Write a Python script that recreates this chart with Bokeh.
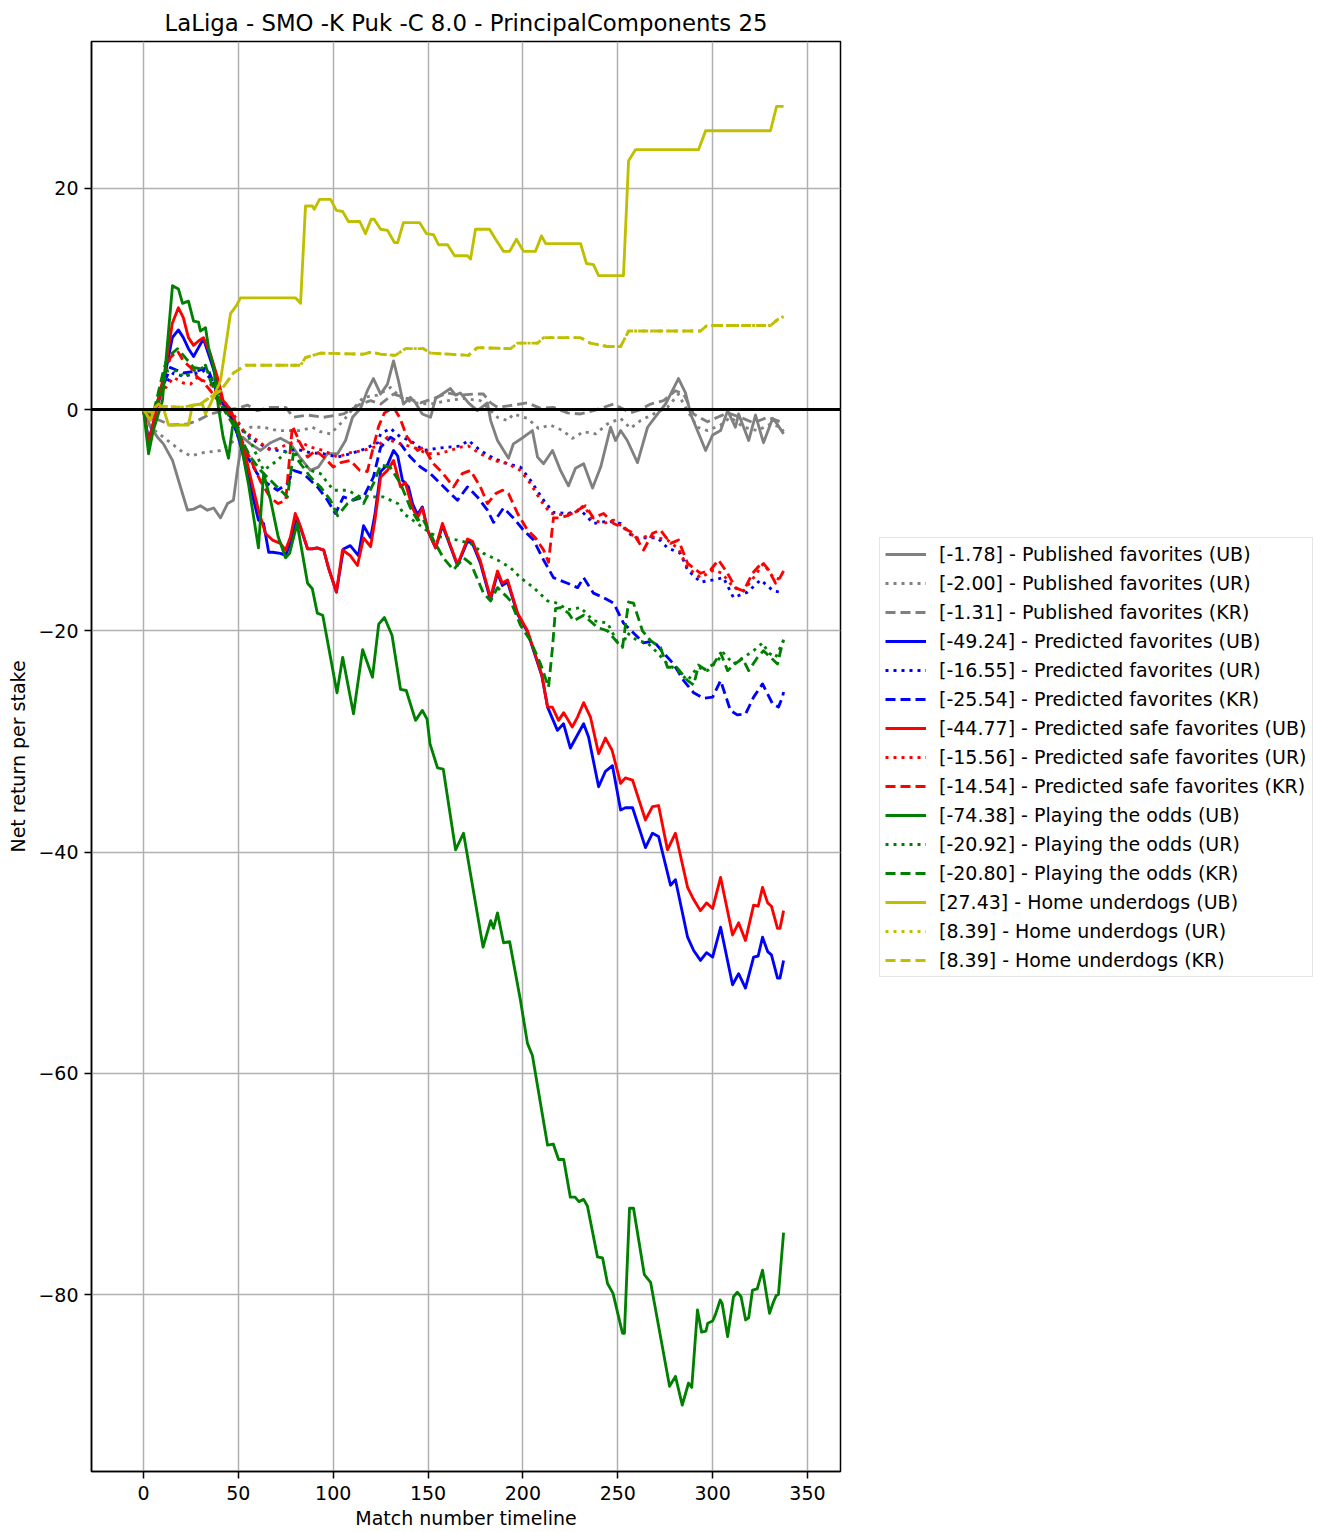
from bokeh.plotting import figure
from bokeh.models import Range1d, FixedTicker, Span, Legend, LegendItem, CustomJSTickFormatter
from bokeh.embed import file_html
from bokeh.resources import INLINE

# ---------------- data (match number, net return) ----------------
pub_ub = [(0, 0), (3.7, -1.6), (7.4, -2.5), (10.5, -3.1), (15.3, -4.6), (19.5, -7), (23.2, -9.1), (26.4, -9),
          (30, -8.7), (33.7, -9.1), (37, -8.9), (40.6, -9.8), (44.3, -8.5), (47.4, -8.2), (49.5, -5.5), (52.2, -2.5),
          (56.4, -3.1), (61.7, -3.7), (67, -3), (72.2, -2.6), (77.5, -3.1), (82.8, -4.4), (88, -5.5), (92.2, -5.2),
          (97, -4), (102.3, -4), (106.5, -2.8), (110.2, -0.7), (114.4, 0.1), (118, 1.7), (121.2, 2.8), (125, 1.4),
          (128.6, 2.3), (131.8, 4.4), (134.4, 2.6), (137, 0.5), (140.7, 1.1), (143.4, 0.6), (147, -0.4), (151.3, -0.7),
          (154, 1), (161.8, 1.9), (164.5, 1.3), (167, 1.5), (171.3, 0.6), (176, -0.1), (181.3, 0.6), (183, -1),
          (186.6, -2.8), (192.4, -4.4), (195, -3.1), (200.3, -2.5), (205, -1.9), (207.7, -4.3), (210.9, -4.9),
          (215.6, -3.7), (219.8, -5.5), (224, -6.9), (227.7, -5.3), (232, -4.9), (236.7, -7.1), (241, -5.2),
          (246.2, -1.6), (248.8, -2.8), (251.5, -1.9), (255, -2.8), (260.4, -4.8), (265.7, -1.6), (271, -0.4),
          (275.2, 0.5), (282, 2.8), (285.7, 1.5), (288.4, -0.4), (296.3, -3.7), (300, -2.3), (304.2, -1.9),
          (307.9, -0.1), (312, -1.6), (313.7, -0.4), (319, -2.8), (322.6, -0.5), (326.8, -3), (331.6, -0.8),
          (334, -1.3), (337.4, -2.2)]
pub_ur = [(0, 0), (3.7, -1.6), (10.5, -2.5), (19.5, -3.7), (24.8, -4.2), (31.6, -3.9), (40.6, -3.7), (45.9, -3.1),
          (51, -2.2), (56.4, -1.6), (63.3, -1.6), (70.6, -1.9), (77.5, -1.9), (83, -1.9), (89, -1.6), (93.3, -2),
          (98.6, -2.2), (105.4, -1), (110, 0), (116, 1.1), (123.4, 1.3), (130.2, 2), (135.5, 1.1), (142.3, 0.6),
          (151.3, 0.5), (160.3, 0.8), (168.7, 1), (177.6, 0.8), (183, -0.1), (186.6, -0.7), (191.9, -1), (195, -0.4),
          (202.4, -0.8), (208.2, -1.7), (214.5, -1.4), (220.9, -1.9), (226.1, -2.6), (232, -2), (238.3, -2.2),
          (244.6, -1.3), (251.5, -0.8), (256.7, -1.7), (262, -1), (268.8, -0.4), (276.2, 0.2), (282, 1.4),
          (285.7, 0.2), (292, -1.6), (297.3, -1.9), (304.2, -1.4), (309.4, -0.7), (316.3, -1.6), (323.7, -1.9),
          (330.5, -1.3), (335.8, -1.6), (337.4, -2.0)]
pub_kr = [(0, 0), (7.4, -0.9), (14.2, -1.4), (23.2, -1.3), (28.5, -1), (35.3, -0.4), (44.3, 0), (49.5, 0.1),
          (54.8, 0.4), (60, -0.1), (67, 0.2), (75, 0.2), (79, -0.7), (86.5, -0.5), (95, -0.7), (105.4, -0.4),
          (114.4, 0.5), (119.7, 0.8), (125, 0.5), (131.8, 1.4), (139, 1), (146, 0.6), (152.9, 1), (160.3, 1.5),
          (167, 1.3), (174, 1.4), (179.2, 1.4), (183, 0.6), (186.6, 0.2), (195, 0.4), (202.4, 0.6), (209.3, 0.1),
          (216, 0.2), (223.5, -0.3), (230.4, -0.4), (237.2, -0.1), (247.8, 0.5), (256.7, -0.3), (262, 0),
          (267.3, 0.5), (274.1, 0.8), (280.4, 1.7), (284.7, 1.4), (289.9, -0.4), (297.3, -1.1), (302.6, -0.7),
          (307.9, -0.3), (314.7, -0.7), (321.6, -1.2), (328.9, -0.7), (334.2, -1), (337.4, -1.3)]
pred_ub = [(0, 0), (2.7, -2.8), (5.5, -1), (10.5, 2.4), (15.2, 6.5), (18.4, 7.2), (21, 6.5), (23.7, 5.5), (26.4, 4.8),
           (29, 5.6), (31.6, 6.4), (35.3, 4.5), (39, 2.5), (42, 0.5), (45.9, -0.4), (49.5, -2.2), (52.7, -4.2),
           (56.4, -7), (60.6, -10), (63.3, -10.3), (66, -12.9), (68, -12.9), (72.2, -13), (74.9, -13.2), (77.5, -12),
           (81, -9.8), (83, -10.8), (86.5, -12.6), (89, -12.6), (91.5, -12.5), (95, -12.7), (97.5, -14.3),
           (101.7, -16.5), (105.4, -12.6), (109, -12.3), (113.3, -13.2), (116, -10.5), (119.7, -11.6), (122, -9.5),
           (125, -5.6), (128.6, -5), (131.8, -3.7), (134, -4.2), (136.5, -6.4), (139.7, -7), (141.8, -8.5),
           (144.4, -9.5), (147, -8.8), (150, -11), (154, -12.5), (157.6, -10.5), (160.3, -11.7), (165.5, -14.1),
           (170.8, -11.9), (173.4, -12.1), (177.6, -13.9), (182.9, -17.2), (186.6, -14.8), (189.2, -15.9),
           (191.9, -15.6), (197.2, -18.5), (202.4, -20.1), (207, -22.5), (210, -24.1), (213, -26.9), (218.2, -29),
           (221.4, -28.4), (225, -30.6), (228.8, -29.4), (232, -28.4), (234.6, -29.6), (239.9, -34.1),
           (243.5, -32.7), (247.2, -32.2), (251.5, -36.2), (254, -36), (257.8, -36), (264.6, -39.6), (268.3, -38.3),
           (271.5, -38.6), (277.8, -43), (280.4, -42.5), (286.8, -47.7), (290, -48.9), (293.6, -49.8),
           (296.8, -49.1), (300, -49.5), (304.2, -46.8), (310.5, -52), (313.7, -51), (317.3, -52.3), (321.6, -49.5),
           (324, -49.4), (326.3, -47.7), (329, -49), (331, -49.3), (334.2, -51.4), (335.5, -51.4), (337.4, -49.8)]
pred_ur = [(0, 0), (5, -0.5), (10.5, 2), (15.8, 3.3), (21, 3), (26.4, 3.2), (31.6, 3.5), (35.3, 2.8), (40.6, 1.2),
           (45.9, -0.3), (52.7, -2), (60, -3), (67, -3.6), (73.8, -3.8), (81, -3.6), (88, -3.9), (95, -4),
           (102.3, -4.3), (109, -4), (116, -3.6), (123.4, -3), (125, -2.2), (130.2, -1.7), (135.5, -2.5),
           (140.7, -2.8), (147.6, -3.7), (155, -3.5), (160.3, -3.4), (167, -3.3), (171.3, -2.8), (177.6, -3.7),
           (184.5, -4.4), (191.9, -4.9), (198.7, -5.2), (204, -6.4), (210.9, -8.2), (216, -9.3), (223.5, -9.4),
           (230.4, -9.1), (237.2, -10.3), (244.6, -10.1), (251.5, -10.3), (258.3, -11.6), (265.7, -11.6),
           (271, -11.6), (276.2, -12.5), (283, -13), (286.8, -14.5), (293.6, -15.6), (300.5, -15.4), (305.7, -15.2),
           (311, -17), (318.4, -16.5), (325.3, -15.4), (332, -16.4), (335.8, -16.5), (337.4, -16.55)]
pred_kr = [(0, 0), (5, -0.5), (10.5, 2.2), (14.2, 3.8), (21, 3.3), (28.5, 3.5), (33.7, 3.8), (39, 1.4), (44.3, 0),
           (49.5, -2.2), (54.8, -4.3), (60, -5.8), (65.4, -6.7), (70.6, -7.3), (75.9, -6.7), (79, -5.5),
           (84.3, -5.8), (91.7, -7), (97, -8.2), (101.2, -9.4), (105.4, -7.9), (110.7, -8.2), (116, -7.9),
           (121.2, -6.1), (125, -3.4), (130.2, -2.5), (135.5, -3.1), (140.7, -4.3), (146, -5.2), (151.3, -5.8),
           (156.6, -6.7), (161.8, -7.6), (165.5, -8.2), (170.8, -7), (176, -7.9), (181.3, -9.1), (184.5, -10.2),
           (189.8, -8.9), (195, -9.8), (200.3, -10.9), (205.6, -11.8), (210.9, -13.6), (216.1, -15.2),
           (223.5, -15.7), (228.8, -16.1), (232, -15.2), (237.2, -16.6), (242.5, -17), (247.8, -17.5), (253, -19.3),
           (258.3, -20.2), (263.6, -21.1), (268.8, -20.9), (274.1, -22), (279.4, -23), (284.7, -24.5), (290, -25.6),
           (295.2, -26.1), (300, -26), (304.2, -24.5), (309.4, -27.2), (313, -27.6), (317.4, -27.5), (321.6, -26),
           (326.3, -24.8), (331.6, -26.6), (334.7, -26.9), (336.8, -26), (337.4, -25.54)]
safe_ub = [(0, 0), (2.7, -3), (5.5, -1), (10.5, 2.6), (15.2, 7.8), (18.4, 9.2), (21, 8.3), (23.7, 6.5), (26.4, 5.8),
           (29, 6.2), (31.6, 6.5), (35.3, 5), (39, 2.9), (42, 0.8), (45.9, 0), (49.5, -1.6), (52.7, -3.4),
           (56.4, -6.1), (60.6, -9.1), (64.3, -11.2), (68, -11.8), (72.2, -12.1), (74.9, -12.7), (77.5, -11.5),
           (80, -9.4), (82.8, -10.6), (86.5, -12.6), (89, -12.6), (91.5, -12.5), (95, -12.7), (97.5, -14.3),
           (101.7, -16.5), (104.9, -12.7), (109, -13.2), (112.8, -14.1), (116, -11.6), (119.7, -12.4), (122, -10),
           (125, -6.1), (128.6, -5.5), (131.8, -4.6), (135.5, -7), (138, -6.6), (141.8, -8.9), (144.4, -9.8),
           (147, -8.9), (150, -11), (154, -12.5), (157.6, -10.3), (160.3, -11.6), (165.5, -14), (170.8, -11.7),
           (173.4, -11.9), (177.6, -13.7), (182.9, -17), (186.6, -14.6), (189.2, -15.7), (191.9, -15.4),
           (197.2, -18.4), (202.4, -20), (207, -22.4), (210, -24), (213, -26.9), (215.5, -26.9), (218.8, -28.1),
           (221.5, -27.4), (226, -28.7), (228.8, -27.8), (232, -26.5), (235.6, -27.8), (239.9, -31.1),
           (243.5, -29.7), (247, -30.8), (251.5, -33.8), (254, -33.3), (257.8, -33.5), (264.6, -37.1),
           (268.3, -35.9), (271.5, -35.8), (276.2, -39.8), (280.4, -38.3), (286.8, -43.2), (290, -44.3),
           (293.6, -45.3), (296.8, -44.6), (300, -45.1), (304.2, -42.3), (310.5, -47.5), (313.7, -46.4),
           (317.3, -48), (321.6, -44.8), (324, -44.9), (326.3, -43.2), (329, -44.6), (331, -44.9), (334.2, -46.9),
           (335.5, -46.9), (337.4, -45.3)]
safe_ur = [(0, 0), (5, -0.5), (10.5, 1.7), (15.8, 2.9), (21, 2.4), (24.8, 2.3), (28.5, 2.9), (31.6, 2.6),
           (35.3, 2.3), (40.6, 1.1), (45.9, 0), (52.7, -1.9), (60, -2.8), (67, -3.7), (73.8, -3.3), (81, -2.8),
           (88, -3.4), (95, -3.7), (102.3, -4.3), (109, -3.9), (116, -3.7), (123.4, -3.3), (128.6, -2.5),
           (130.2, -2.8), (135.5, -3.1), (142.3, -3.4), (149.7, -4), (155.5, -4), (161.8, -3.7), (167, -3.4),
           (171.3, -3.3), (177.6, -4), (184.5, -4.6), (191.9, -4.9), (198.7, -5.5), (204, -6.7), (209.3, -8.2),
           (214.5, -9.4), (220, -9.5), (226.7, -9.4), (232, -8.7), (237.2, -10), (242.5, -10.3), (247.8, -10),
           (255, -10.9), (260.4, -11.8), (265.7, -11.4), (271, -11.6), (276.2, -11.8), (282, -12.6), (286.8, -14.3),
           (293.6, -15.2), (300.5, -14.5), (305, -14.8), (311, -16.1), (316.3, -16.4), (321.6, -15.2),
           (326.8, -13.9), (332, -15.2), (336.8, -15.4), (337.4, -15.56)]
safe_kr = [(0, 0), (5, -1), (10.5, 2.9), (14.2, 4.7), (17.9, 5.3), (21, 4.4), (24.8, 3.8), (28.5, 2.9), (31, 2.6),
           (35.3, 1.7), (40.6, 0.5), (45.9, -0.4), (51, -2.5), (56.4, -4.5), (61.7, -6.5), (67, -8), (71, -8.5),
           (75, -8.2), (78.5, -1.5), (82.8, -3.1), (86.5, -4.3), (90.7, -3.7), (95, -4.3), (100, -5.2), (104, -4.8),
           (109, -4.6), (114, -5.5), (118, -5.6), (121, -3.5), (124, -1.5), (127, -0.3), (131.8, 0.2), (135, -0.7),
           (139, -2.5), (144.4, -3.7), (147.6, -3.4), (152.9, -4.9), (158, -5.8), (163.4, -7), (168, -5.8),
           (172.4, -5.5), (177.6, -7), (181.3, -8.5), (185.6, -7.6), (189.2, -7.3), (192.4, -7.6), (197.2, -9.4),
           (202.4, -10.9), (206.6, -11.6), (210.9, -12.7), (213.5, -13.8), (216.1, -9.8), (218.8, -9.8),
           (223.5, -9.6), (228.8, -9.1), (233, -8.7), (237.2, -9.8), (242.5, -9.4), (247.8, -10.3), (253, -10.7),
           (258.3, -11.2), (263.6, -12.7), (268.3, -11.2), (272.5, -10.9), (277.8, -12.1), (282, -11.8),
           (286.8, -13.9), (293.6, -14.8), (298.9, -14.5), (303.1, -13.6), (307.9, -14.8), (312, -16.1),
           (316.3, -16.4), (321, -14.8), (326.3, -13.8), (329.5, -14.5), (333.2, -15.7), (335.5, -15.2),
           (337.4, -14.6)]
odds_ub = [(0, 0), (2.7, -4), (5, -2), (10, 0.8), (15.3, 11.2), (18.4, 10.9), (20.6, 9.6), (23.7, 9.8), (26.4, 8),
           (29, 7.9), (30, 7.1), (32.7, 7.4), (34.3, 5.6), (37, 3.8), (39.5, 0.2), (42, -2.5), (44.8, -4.4),
           (46.9, -1.6), (48.5, -1.2), (51, -2.8), (55.3, -6.7), (60.6, -12.5), (63.3, -5.8), (67, -8.2),
           (71, -11.5), (74.9, -13.4), (77, -13), (81, -10.3), (86.5, -15.7), (89, -16.2), (91.6, -18.4),
           (94.5, -18.6), (102, -25.6), (105, -22.4), (110.7, -27.5), (115.5, -21.7), (120.7, -24.2), (124, -19.4),
           (127, -18.8), (131, -20.4), (135.5, -25.3), (138.5, -25.4), (143.4, -28.1), (147, -27.2), (149.5, -28),
           (151, -30.2), (155, -32.4), (158, -32.5), (164.5, -39.8), (168.7, -38.3), (179, -48.6), (183, -46.2),
           (184.5, -46.9), (186.6, -45.5), (189.8, -48.2), (193, -48.1), (198.7, -53.4), (202.4, -57.3),
           (205, -58.4), (213, -66.5), (216, -66.4), (218.8, -67.8), (221.5, -67.8), (225, -71.2), (227.5, -71.2),
           (229.5, -71.6), (232, -71.4), (234, -72), (239.3, -76.6), (242, -76.7), (244.6, -79), (247.5, -79.9),
           (250, -81.7), (252.5, -83.5), (253.5, -83.5), (256.2, -72.2), (258.3, -72.2), (264, -78.2),
           (267.3, -78.9), (277.3, -88.3), (280.4, -87.4), (284, -90), (287.3, -88), (289, -88.4), (292, -81.4),
           (294.2, -83.4), (296.5, -83.3), (297.4, -82.6), (300, -82.4), (301.5, -81.8), (304, -80.5), (305, -80.8),
           (307.9, -83.8), (311, -80.2), (313, -79.8), (315, -80.2), (317.4, -82.3), (319, -82.1), (321, -79.6),
           (323.5, -79.5), (326.3, -77.8), (330, -81.7), (332, -80.7), (333.5, -80.1), (334.7, -80), (337.4, -74.4)]
odds_ur = [(0, 0), (5, -0.5), (12.6, 3.5), (17.9, 3.5), (21, 2.9), (26.4, 3.5), (31.6, 3.8), (35.3, 3.2), (39, 1.4),
           (44.3, -0.4), (49.5, -1.6), (54.8, -2.2), (58, -3.5), (63.3, -5.5), (70.6, -4.6), (77.5, -3.4),
           (82.8, -4.6), (88, -5.5), (93.3, -5.8), (100.2, -7.3), (107.5, -7.3), (114.4, -7.9), (120, -7.9),
           (126.5, -7.9), (134, -8.5), (137, -9.4), (144.4, -10.3), (151.3, -11.2), (158, -11.6), (165.5, -11.8),
           (172.4, -12.1), (179.2, -13), (186.6, -13.6), (193.5, -14.3), (198.7, -15.2), (205.6, -16.1),
           (213, -17.3), (218.2, -17.5), (223.5, -18.1), (230.4, -17.9), (237.2, -19.1), (244.6, -19.3),
           (250, -21.1), (252.5, -21.4), (255, -20.2), (260.4, -20.9), (265.7, -21.1), (271, -22), (276.2, -23),
           (281.5, -23.6), (286.8, -24.5), (292, -23.3), (297.3, -23.6), (302.6, -22.7), (305.7, -22), (311, -23),
           (316.3, -22.4), (321.6, -21.8), (326.3, -21.1), (329.5, -22), (333.2, -22.4), (336.8, -21.1),
           (337.4, -20.9)]
odds_kr = [(0, 0), (5, -0.5), (10.5, 3.5), (12.6, 4.7), (17.9, 5.5), (22, 4.7), (26.4, 3.8), (30, 3.7), (32.7, 4),
           (35.3, 2.6), (40.6, 0.5), (45.9, -1), (51, -2.5), (56.4, -4.3), (61.7, -5.5), (67, -6.4), (72.2, -7.3),
           (75.9, -7.9), (79, -4), (82.8, -4.9), (88, -6.1), (93.3, -7), (98.6, -8.2), (102.3, -9.6), (107.5, -8.5),
           (112.8, -7.9), (116, -8.5), (121.2, -6.7), (125, -5), (130, -5.2), (135.5, -6.7), (140.7, -8.9),
           (144.4, -10), (147, -9.8), (152.9, -11.8), (158, -13.4), (163.4, -14.5), (168.7, -13.4), (172.4, -13.9),
           (174, -14.5), (179.2, -16.6), (183, -17.3), (186.6, -16.1), (191.9, -17), (193.5, -17.3),
           (198.7, -19.5), (204, -20.9), (209.3, -23), (213.5, -25.1), (215.6, -21.5), (217.2, -18), (219.8, -17.9),
           (224, -18.4), (226.7, -19.1), (232, -18.6), (239.3, -19.7), (244.6, -20), (250, -21.1), (252.5, -21.5),
           (255.7, -17.4), (258.3, -17.5), (263, -20), (267.3, -20.9), (272.5, -21.5), (276.2, -23.3),
           (281, -23.3), (286.8, -24.5), (290, -24.9), (292.6, -23.1), (296, -23.5), (300.5, -23), (304.2, -22),
           (307.9, -23.6), (311, -23.1), (315.8, -22.5), (319, -23.6), (323.7, -22.4), (326.8, -21.8),
           (330.5, -22.4), (334.2, -23), (336.8, -21.1), (337.4, -20.8)]
home_ub = [(0, 0), (3.7, -1), (6, 0.2), (8, 0.5), (10.5, 0.1), (13.2, -1.4), (23.7, -1.4), (25.8, 0.4), (31, 0.5),
           (32.7, -0.4), (35.3, 0.5), (40.6, 2.6), (45.9, 8.7), (49, 9.4), (51.1, 10.1), (80.1, 10.1), (82.8, 9.6),
           (85.4, 18.4), (89, 18.4), (90, 18.1), (92.8, 19), (98.6, 19), (101.7, 18), (105, 17.9), (108, 17),
           (114, 17), (117, 15.9), (120, 17.2), (121.6, 17.2), (125, 16.3), (128.6, 16.2), (132.3, 15.1),
           (134, 15.1), (137, 16.9), (145.5, 16.9), (149.2, 15.9), (152.9, 15.8), (155.5, 14.9), (160.3, 14.9),
           (164, 13.9), (170.8, 13.9), (172.4, 13.6), (175, 16.3), (182.4, 16.3), (185.6, 15.4), (189.8, 14.3),
           (193, 14.3), (196.6, 15.4), (200.3, 14.3), (206.6, 14.3), (209.8, 15.7), (212, 15), (230.4, 15),
           (233.5, 13.2), (237.2, 13.1), (239.9, 12.1), (253, 12.1), (255.7, 22.5), (259.4, 23.5), (292.6, 23.5),
           (296.3, 25.2), (330.5, 25.2), (333.7, 27.4), (337.4, 27.4)]
home_kr = [(0, 0), (5, -0.3), (10, 0.3), (20, 0.2), (30, 0.5), (35, 1.1), (40.6, 1.7), (47.4, 3.3), (53.8, 4),
           (82.8, 4), (85.4, 4.7), (93.3, 5.1), (116, 5), (120, 5.2), (125, 5), (132.8, 4.9), (138, 5.5),
           (147.6, 5.5), (151.3, 5.1), (171.3, 4.9), (176, 5.6), (193.5, 5.5), (197.2, 6), (207.7, 6), (210.9, 6.5),
           (230.4, 6.5), (235.6, 6), (244.6, 5.7), (251.5, 5.7), (255.7, 7.1), (293.6, 7.1), (297, 7.6),
           (330.5, 7.6), (334.7, 8.2), (337.4, 8.4)]
home_ur = home_kr  # legend reports identical result (8.39)

strategies = ["Published favorites", "Predicted favorites", "Predicted safe favorites",
              "Playing the odds", "Home underdogs"]
variants = ["UB", "UR", "KR"]
final_values = [-1.78, -2.00, -1.31, -49.24, -16.55, -25.54, -44.77, -15.56, -14.54,
                -74.38, -20.92, -20.80, 27.43, 8.39, 8.39]
series_data = [pub_ub, pub_ur, pub_kr, pred_ub, pred_ur, pred_kr, safe_ub, safe_ur, safe_kr,
               odds_ub, odds_ur, odds_kr, home_ub, home_ur, home_kr]
x_ticks = [0, 50, 100, 150, 200, 250, 300, 350]
y_ticks = [-80, -60, -40, -20, 0, 20]

# ---------------- styles ----------------
colors = ["#808080", "#0000ff", "#ff0000", "#008000", "#bfbf00"]
dashes = ["solid", "3 5", "10 5"]
FONT = "DejaVu Sans"
FS = "19px"
LW = 2.85

p = figure(frame_width=749, frame_height=1430, min_border_left=91, min_border_right=476,
           min_border_top=41, min_border_bottom=60,
           x_range=Range1d(-27.4, 367.4), y_range=Range1d(-96.0, 33.27),
           output_backend="svg", toolbar_location=None,
           title="LaLiga - SMO -K Puk -C 8.0 - PrincipalComponents 25")
p.title.align = "center"
p.title.text_font = FONT
p.title.text_font_size = "22.8px"
p.title.text_font_style = "normal"
p.title.text_color = "#000000"
p.title.standoff = 12

p.outline_line_color = "black"
p.outline_line_width = 1.5
p.background_fill_color = "white"
p.border_fill_color = "white"

p.xaxis.ticker = FixedTicker(ticks=x_ticks)
p.yaxis.ticker = FixedTicker(ticks=y_ticks)
p.yaxis.formatter = CustomJSTickFormatter(code="return tick < 0 ? '\u2212' + Math.abs(tick) : '' + tick;")
for ax in (p.xaxis, p.yaxis):
    ax.axis_line_color = "black"
    ax.axis_line_width = 1.5
    ax.major_tick_line_color = "black"
    ax.major_tick_line_width = 1.5
    ax.major_tick_out = 7
    ax.major_tick_in = 0
    ax.minor_tick_line_color = None
    ax.major_label_text_font = FONT
    ax.major_label_text_font_size = FS
    ax.major_label_text_color = "#000000"
    ax.axis_label_text_font = FONT
    ax.axis_label_text_font_size = FS
    ax.axis_label_text_font_style = "normal"
    ax.axis_label_text_color = "#000000"
p.xaxis.axis_label = "Match number timeline"
p.yaxis.axis_label = "Net return per stake"
p.xaxis.major_label_standoff = 7
p.yaxis.major_label_standoff = 6
p.xaxis.axis_label_standoff = 4
p.yaxis.axis_label_standoff = 6

p.grid.grid_line_color = "#b0b0b0"
p.grid.grid_line_width = 1.5

items = []
for i, pts in enumerate(series_data):
    s, v = divmod(i, 3)
    xs = [pt[0] for pt in pts]
    ys = [pt[1] for pt in pts]
    r = p.line(xs, ys, line_color=colors[s], line_width=LW, line_dash=dashes[v], line_join="round")
    label = "[%.2f] - %s (%s)" % (final_values[i], strategies[s], variants[v])
    items.append(LegendItem(label=label, renderers=[r]))

p.add_layout(Span(location=0, dimension="width", line_color="black", line_width=2.85))

legend = Legend(items=items, location=(39, 494), orientation="vertical")
legend.label_text_font = FONT
legend.label_text_font_size = FS
legend.label_text_color = "#000000"
legend.glyph_width = 41
legend.glyph_height = 20
legend.label_height = 20
legend.label_standoff = 13
legend.spacing = 7
legend.padding = 5
legend.margin = 0
legend.border_line_color = "#cccccc"
legend.border_line_width = 1.5
legend.background_fill_color = "white"
legend.background_fill_alpha = 0.8
p.add_layout(legend, "right")

open("out.html", "w").write(file_html(p, INLINE))
